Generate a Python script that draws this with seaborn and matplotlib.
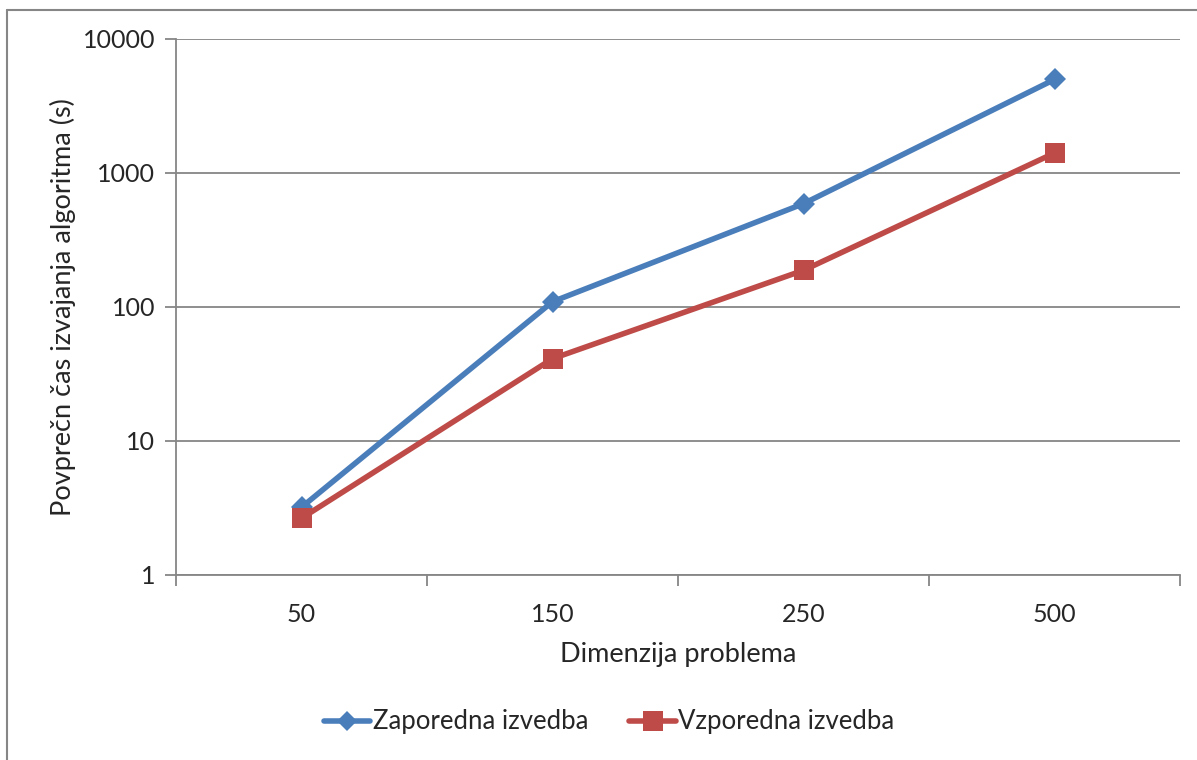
import matplotlib
matplotlib.use("Agg")
import matplotlib.pyplot as plt
from matplotlib.lines import Line2D
import seaborn as sns
import pandas as pd

categories = ["50", "150", "250", "500"]
zaporedna = [3.2, 109, 587, 4950]
vzporedna = [2.65, 41, 187, 1400]
series_names = ["Zaporedna izvedba", "Vzporedna izvedba"]
y_ticks = [1, 10, 100, 1000, 10000]
y_tick_labels = ["1", "10", "100", "1000", "10000"]

df = pd.DataFrame({
    "dim": categories * 2,
    "pos": list(range(len(categories))) * 2,
    "time": zaporedna + vzporedna,
    "series": [series_names[0]] * 4 + [series_names[1]] * 4,
})

sns.set_theme(style="white")
plt.rcParams["font.family"] = ["Lato", "DejaVu Sans"]

fig = plt.figure(figsize=(11.97, 7.6), dpi=100)
ax = fig.add_axes([176 / 1197, 1 - 575 / 760, (1180 - 176) / 1197, (575 - 38.5) / 760])

palette = {series_names[0]: "#4A7EBB", series_names[1]: "#BE4B48"}
markers = {series_names[0]: "D", series_names[1]: "s"}
sizes = {series_names[0]: 11, series_names[1]: 15}

for name in series_names:
    sub = df[df["series"] == name]
    sns.lineplot(data=sub, x="pos", y="time", ax=ax, color=palette[name],
                 marker=markers[name], markersize=sizes[name], linewidth=4,
                 markeredgewidth=0, label=name, legend=False)

ax.set_yscale("log")
ax.set_ylim(1, 10000)
ax.set_xlim(-0.5, len(categories) - 0.5)
ax.set_yticks(y_ticks)
ax.set_yticklabels(y_tick_labels)
ax.minorticks_off()
ax.set_xticks(range(len(categories)))
ax.set_xticklabels(categories)
ax.tick_params(axis="x", length=0, pad=20, labelsize=18)
ax.tick_params(axis="y", length=8, width=1.3, color="#868686", pad=7, labelsize=18, left=True)
ax.set_xticks([-0.5, 0.5, 1.5, 2.5, 3.5], minor=True)
ax.tick_params(axis="x", which="minor", length=8, width=1.3, color="#868686", bottom=True, direction="out")

ax.grid(axis="y", color="#868686", linewidth=1.3)
ax.grid(axis="x", visible=False)
for s in ["top", "right"]:
    ax.spines[s].set_visible(False)
for s in ["left", "bottom"]:
    ax.spines[s].set_color("#868686")
    ax.spines[s].set_linewidth(1.3)

ax.set_xlabel("Dimenzija problema", fontsize=19.5, labelpad=12)
ax.set_ylabel("Povprečn čas izvajanja algoritma (s)", fontsize=19.5, labelpad=5)

handles = [Line2D([0], [0], color=palette[n], marker=markers[n], markersize=sizes[n] - 1,
                  linewidth=4, markeredgewidth=0) for n in series_names]
fig.legend(handles, series_names, loc="center", bbox_to_anchor=(0.509, 1 - 722 / 760),
           ncol=2, frameon=False, fontsize=18.5, handlelength=1.8, handletextpad=0.1,
           columnspacing=1.6)

fig.add_artist(Line2D([7 / 1197, 1], [1 - 9.5 / 760, 1 - 9.5 / 760], transform=fig.transFigure,
                      color="#868686", linewidth=1.5))
fig.add_artist(Line2D([7 / 1197, 7 / 1197], [0, 1 - 9.5 / 760], transform=fig.transFigure,
                      color="#868686", linewidth=1.5))

fig.savefig("out.png", dpi=100, facecolor="white")
